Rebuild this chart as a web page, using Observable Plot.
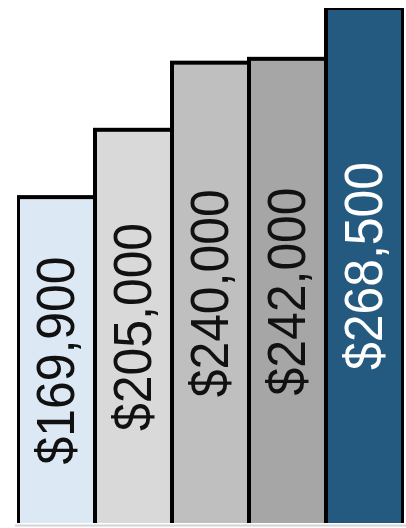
<!DOCTYPE html>
<html>
<head>
<meta charset="utf-8">
<script src="https://cdn.jsdelivr.net/npm/d3@7"></script>
<script src="https://cdn.jsdelivr.net/npm/@observablehq/plot@0.6"></script>
<style>
  html, body { margin: 0; padding: 0; background: #fff; }
  #chart svg { display: block; }
</style>
</head>
<body>
<div id="chart"></div>
<script>
const categories = ["1", "2", "3", "4", "5"];
const values = [169900, 205000, 240000, 242000, 268500];
const colors = ["#dde8f5", "#d9d9d9", "#bfbfbf", "#a6a6a6", "#245a80"];
const textColors = ["#111", "#111", "#111", "#111", "#ffffff"];

const data = categories.map((c, i) => ({
  cat: c, value: values[i], fill: colors[i], text: textColors[i],
  label: d3.format("$,")(values[i])
}));

const chart = Plot.plot({
  width: 406,
  height: 528,
  marginLeft: 17,
  marginRight: 2,
  marginTop: 8,
  marginBottom: 5,
  x: { domain: categories, padding: 0, axis: null },
  y: { domain: [0, 268500], axis: null },
  marks: [
    Plot.ruleY([0], { stroke: "#d4d4d4", strokeWidth: 2, dy: 2, insetLeft: -2, insetRight: -2 }),
    Plot.rect(data, {
      x: "cat",
      y1: -6000,
      y2: "value",
      fill: d => d.fill,
      stroke: "#000",
      strokeWidth: 4,
      clip: true
    }),
    Plot.text(data, {
      x: "cat",
      y: d => d.value / 2,
      text: "label",
      rotate: -90,
      fill: d => d.text,
      fontSize: 54,
      fontFamily: "Liberation Sans, Arial, sans-serif",
      textAnchor: "middle",
      className: "barlabel"
    })
  ]
});
d3.select(chart).selectAll("g.barlabel text")
  .attr("textLength", 208)
  .attr("lengthAdjust", "spacingAndGlyphs");
document.getElementById("chart").append(chart);
</script>
</body>
</html>
